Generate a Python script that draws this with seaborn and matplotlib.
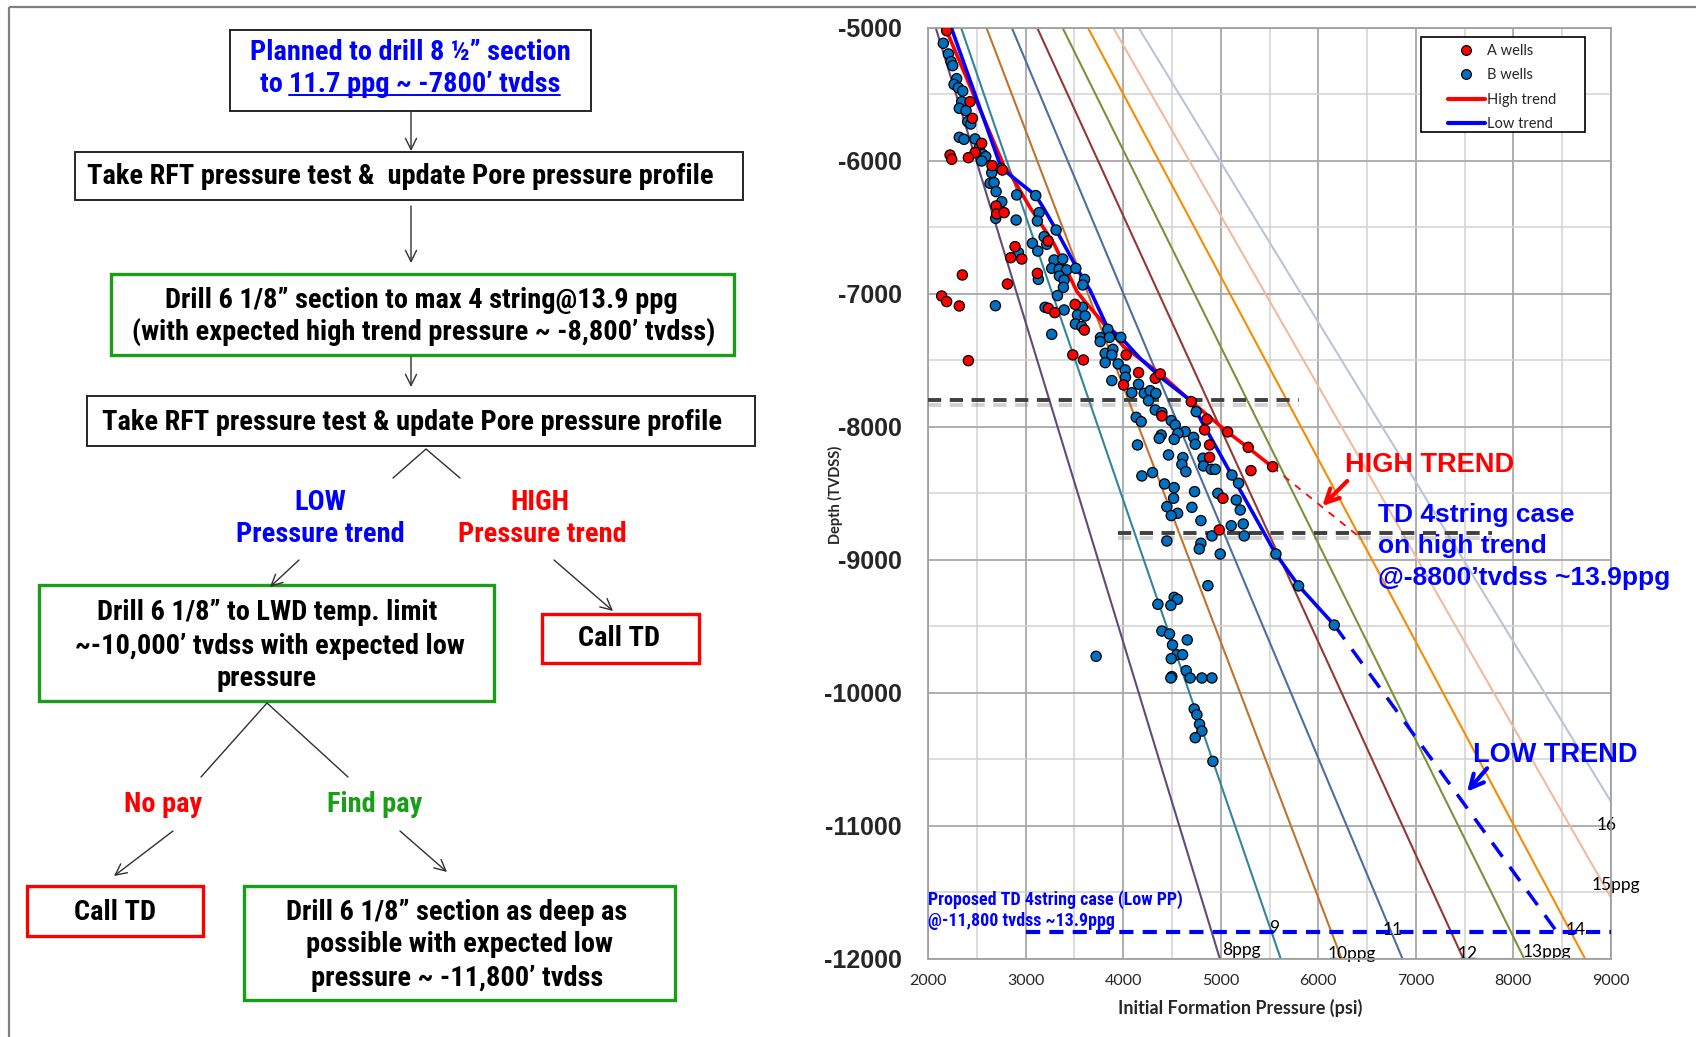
import numpy as np
import pandas as pd
import matplotlib
matplotlib.use("Agg")
import matplotlib.pyplot as plt
import matplotlib.patheffects as pe
from matplotlib import font_manager as fm
from matplotlib.lines import Line2D
from matplotlib.patches import Rectangle
import seaborn as sns

# ---------------------------------------------------------------- data
# A wells: initial formation pressure (psi) and depth (ft TVDSS)
a_psi = [2191, 2431, 2455, 2550, 2482, 2226, 2243, 2414, 2656, 2762, 2698, 2704,
         2780, 3231, 2892, 2848, 2961, 3121, 2352, 2814, 2140, 2191, 2321, 3234,
         3299, 3508, 3603, 3484, 3593, 2414, 4031, 4004, 4158, 4329, 4380, 4698,
         4397, 4859, 4835, 5071, 4886, 5282, 5532, 5310, 4886, 5023, 4985]
a_depth = [-5020, -5554, -5679, -5867, -5937, -5955, -5987, -5975, -6035, -6068,
           -6338, -6398, -6388, -6601, -6644, -6727, -6737, -6845, -6857, -6925,
           -7015, -7057, -7090, -7108, -7140, -7078, -7271, -7458, -7496, -7501,
           -7458, -7684, -7591, -7634, -7601, -7809, -7917, -7942, -8022, -8037,
           -8135, -8153, -8298, -8328, -8228, -8536, -8774]

# B wells
b_psi = [2157, 2209, 2236, 2253, 2294, 2267, 2311, 2356, 2345, 2321, 2390, 2407,
         2438, 2321, 2369, 2482, 2527, 2561, 2592, 2550, 2653, 2745, 2636, 2677,
         2698, 2909, 3104, 2756, 2694, 2903, 3139, 3121, 3313, 3190, 3217, 3070,
         3125, 2927, 3292, 3381, 3268, 3344, 3422, 3515, 3131, 3347, 3395, 3604,
         3586, 3388, 3327, 2691, 3200, 3395, 3583, 3532, 3611, 3511, 3576, 3268,
         3843, 3768, 3765, 3860, 3976, 3816, 3895, 3884, 3816, 3949, 4021, 3884,
         4024, 4158, 4089, 4216, 4277, 4335, 4260, 4749, 4329, 4397, 4134, 4185,
         4493, 4534, 4636, 4561, 4722, 4390, 4370, 4523, 4739, 4147, 4465, 4818,
         4612, 4602, 4643, 4824, 4903, 4944, 4192, 4301, 5115, 5183, 4424, 4523,
         4732, 4971, 5159, 4517, 4448, 4705, 5200, 4558, 4493, 4797, 5108, 5231,
         4910, 5241, 4448, 4797, 4780, 4995, 5566, 5798, 6164, 4869, 4523, 4557,
         4356, 4489, 4397, 4475, 4657, 4506, 3723, 4551, 4609, 4493, 4646, 4499,
         4489, 4687, 4807, 4910, 4728, 4756, 4783, 4807, 4739, 4920]
b_depth = [-5115, -5195, -5253, -5283, -5381, -5424, -5449, -5474, -5554, -5604,
           -5621, -5704, -5722, -5822, -5837, -5834, -5897, -5950, -5967, -6000,
           -6088, -6055, -6168, -6163, -6230, -6255, -6260, -6306, -6431, -6444,
           -6388, -6451, -6519, -6569, -6626, -6619, -6677, -6689, -6744, -6737,
           -6807, -6814, -6819, -6807, -6890, -6865, -6895, -6890, -6932, -6950,
           -7012, -7088, -7100, -7120, -7100, -7158, -7165, -7225, -7245, -7303,
           -7265, -7328, -7358, -7326, -7326, -7446, -7416, -7458, -7516, -7526,
           -7571, -7651, -7626, -7679, -7742, -7747, -7727, -7747, -7802, -7885,
           -7872, -7892, -7927, -7960, -7952, -7985, -8035, -8048, -8078, -8060,
           -8085, -8093, -8130, -8135, -8210, -8235, -8230, -8281, -8336, -8293,
           -8318, -8318, -8368, -8343, -8361, -8423, -8428, -8456, -8486, -8499,
           -8549, -8536, -8599, -8604, -8624, -8649, -8666, -8704, -8742, -8729,
           -8819, -8819, -8857, -8874, -8917, -8955, -8955, -9195, -9489, -9193,
           -9281, -9296, -9333, -9341, -9534, -9556, -9601, -9639, -9724, -9712,
           -9712, -9742, -9832, -9877, -9887, -9887, -9887, -9887, -10120, -10163,
           -10235, -10286, -10336, -10514]

# pressure trends
high_psi = [2190, 2780, 2850, 3050, 3290, 3525, 3595, 3815, 4005, 4380, 4700,
            5065, 5280, 5530]
high_depth = [-5020, -6040, -6105, -6355, -6620, -6980, -7045, -7235, -7395,
              -7600, -7810, -8035, -8155, -8300]
high_ext_psi = [5530, 6410]
high_ext_depth = [-8300, -8820]

low_psi = [2240, 2740, 2815, 3105, 3185, 3315, 3525, 3660, 3835, 3975, 4175,
           4400, 4690, 4750, 5565, 5800, 6165]
low_depth = [-5000, -6030, -6090, -6260, -6355, -6520, -6805, -6970, -7245,
             -7325, -7485, -7635, -7800, -7885, -8955, -9195, -9490]
low_ext_psi = [6165, 8450]
low_ext_depth = [-9490, -11800]

# mud-weight gradient lines (pressure at the top and bottom of the plot)
mw_ppg = [8, 9, 10, 11, 12, 13, 14, 15, 16]
mw_depth_top = -5000
mw_depth_bottom = -12000
mw_psi_top = [2080, 2340, 2600, 2860, 3120, 3380, 3640, 3900, 4160]
mw_psi_bottom = [4992, 5616, 6240, 6864, 7488, 8112, 8736, 9360, 9984]
mw_labels = ["8ppg", "9", "10ppg", "11", "12", "13ppg", "14", "15ppg", "16"]

# casing / TD reference depths
shoe_depths = [-7800, -8800]
shoe_psi_from = [2000, 3950]
shoe_psi_to = [5800, 7780]
td_low_depth = -11800
td_low_psi = [3000, 9000]

x_ticks = [2000, 3000, 4000, 5000, 6000, 7000, 8000, 9000]
y_ticks = [-12000, -11000, -10000, -9000, -8000, -7000, -6000, -5000]

# ---------------------------------------------------------------- style
sns.set_style("white")
ARIAL = ["Liberation Sans", "DejaVu Sans"]
HUMAN = ["Lato", "DejaVu Sans"]
plt.rcParams["font.family"] = HUMAN
plt.rcParams["axes.unicode_minus"] = False


def pick_narrow():
    """Prefer a condensed sans for the flowchart captions."""
    fonts = fm.fontManager.ttflist
    names = {f.name for f in fonts}
    for n in ["Liberation Sans Narrow", "Arial Narrow", "Roboto Condensed",
              "Noto Sans Condensed", "Open Sans Condensed",
              "DejaVu Sans Condensed", "Noto Sans SemiCondensed"]:
        if n in names:
            return [n, "DejaVu Sans"], "normal"
    for f in fonts:
        if str(f.stretch) in ("condensed", "semi-condensed") and \
                f.name in ("Noto Sans", "Roboto", "Open Sans", "DejaVu Sans"):
            return [f.name, "DejaVu Sans"], str(f.stretch)
    return ["Liberation Sans", "DejaVu Sans"], "normal"


NARROW, NSTRETCH = pick_narrow()

RED = "#FF0000"
BLUE_PT = "#0070C0"
BLUE = "#0000FF"
GREEN = "#1A9E1A"
mw_colors = ["#604A7B", "#31859C", "#C0722E", "#4A6FA0", "#953735",
             "#77933C", "#F98A00", "#F4B8A0", "#B8C4DA"]

W, H = 1696, 1037
fig = plt.figure(figsize=(W / 100, H / 100), dpi=100)
renderer = fig.canvas.get_renderer()


def fit_size(text, target_px, base=20.0):
    """Font size at which a bold narrow caption spans target_px pixels."""
    t = fig.text(0, 0, text, fontsize=base, fontweight="bold", family=NARROW,
                 fontstretch=NSTRETCH)
    w = t.get_window_extent(renderer).width
    t.remove()
    return base * target_px / w


FC_SIZE = fit_size("Take RFT pressure test & update Pore pressure profile", 615)
NOTE_SIZE = fit_size("Proposed TD 4string case (Low PP)", 255, base=13.0)

# ---------------------------------------------------------------- flowchart
fax = fig.add_axes([0, 0, 1, 1], zorder=-1)
fax.set_xlim(0, W)
fax.set_ylim(H, 0)
fax.axis("off")

# outer frame
fax.plot([9, W], [6.5, 6.5], color="#808080", lw=1.6, solid_capstyle="butt")
fax.plot([9, 9], [6.5, H], color="#808080", lw=1.6, solid_capstyle="butt")


def box(x0, y0, x1, y1, color, lw):
    fax.add_patch(Rectangle((x0, y0), x1 - x0, y1 - y0, fill=False,
                            ec=color, lw=lw, joinstyle="miter"))


def label(x, y, s, color="black", ha="center"):
    return fax.text(x, y, s, ha=ha, va="center", fontsize=FC_SIZE,
                    fontweight="bold", family=NARROW, fontstretch=NSTRETCH,
                    color=color)


def arrow(tail, tip):
    fax.annotate("", xy=tip, xytext=tail,
                 arrowprops=dict(arrowstyle="->", color="#303030", lw=1.0,
                                 mutation_scale=20, shrinkA=0, shrinkB=0))


box(230, 30, 591, 111, "#262626", 1.4)
label(410, 53, "Planned to drill 8 \u00bd\u201d section", color=BLUE)
t_to = label(0, 85, "to ", color=BLUE, ha="left")
t_ul = label(0, 85, "11.7 ppg ~ -7800\u2019 tvdss", color=BLUE, ha="left")
arrow((411, 111), (411, 151))

box(75, 152, 743, 200, "#262626", 1.4)
label(400, 176, "Take RFT pressure test &  update Pore pressure profile")
arrow((411, 206), (411, 263))

box(111, 274, 734, 355, GREEN, 2.4)
label(421, 300, "Drill 6 1/8\u201d section to max 4 string@13.9 ppg")
label(424, 332, "(with expected high trend pressure ~ -8,800\u2019 tvdss)")
arrow((411, 357), (411, 387))

box(87, 396, 755, 446, "#262626", 1.4)
label(412, 422, "Take RFT pressure test & update Pore pressure profile")
fax.plot([393, 426, 460], [478, 449, 478], color="#303030", lw=1.0)

label(320, 503, "LOW", color=BLUE)
label(320, 535, "Pressure trend", color=BLUE)
label(540, 503, "HIGH", color=RED)
label(542, 535, "Pressure trend", color=RED)
arrow((299, 560), (270, 587))
arrow((554, 560), (613, 611))

box(39, 585, 494, 701, GREEN, 2.4)
label(267, 612, "Drill 6 1/8\u201d to LWD temp. limit")
label(270, 646, "~-10,000\u2019 tvdss with expected low")
label(267, 678, "pressure")

box(542, 614, 699, 663, RED, 2.4)
label(619, 639, "Call TD")

fax.plot([201, 267, 348], [777, 703, 777], color="#303030", lw=1.0)
label(163, 804, "No pay", color=RED)
label(375, 804, "Find pay", color=GREEN)
arrow((173, 831), (114, 876))
arrow((400, 831), (447, 872))

box(27, 886, 203, 936, RED, 2.4)
label(115, 912, "Call TD")

box(244, 886, 675, 1000, GREEN, 2.4)
label(457, 913, "Drill 6 1/8\u201d section as deep as")
label(459, 945, "possible with expected low")
label(457, 978, "pressure ~ -11,800\u2019 tvdss")

# ---------------------------------------------------------------- chart
ax = fig.add_axes([928 / W, 1 - 959 / H, 683 / W, 931 / H], zorder=1)

mw_df = pd.DataFrame({
    "psi": np.ravel(np.column_stack([mw_psi_top, mw_psi_bottom])),
    "depth": np.tile([mw_depth_top, mw_depth_bottom], len(mw_ppg)),
    "ppg": np.repeat(mw_ppg, 2),
})
sns.lineplot(data=mw_df, x="psi", y="depth", hue="ppg",
             palette=dict(zip(mw_ppg, mw_colors)), units="ppg",
             estimator=None, sort=False, lw=1.5, legend=False, ax=ax, zorder=2)

trend_df = pd.DataFrame({
    "psi": high_psi + low_psi,
    "depth": high_depth + low_depth,
    "trend": ["High trend"] * len(high_psi) + ["Low trend"] * len(low_psi),
})
sns.lineplot(data=trend_df, x="psi", y="depth", hue="trend",
             palette={"High trend": RED, "Low trend": BLUE}, units="trend",
             estimator=None, sort=False, lw=2.6, legend=False, ax=ax, zorder=3)
sns.lineplot(x=high_ext_psi, y=high_ext_depth, color=RED, lw=1.3,
             ax=ax, zorder=3, sort=False, estimator=None,
             linestyle=(0, (4, 4)))
sns.lineplot(x=low_ext_psi, y=low_ext_depth, color=BLUE, lw=2.5,
             ax=ax, zorder=3, sort=False, estimator=None,
             linestyle=(0, (5, 3.6)))

# casing shoe depths
shadow = [pe.SimpleLineShadow(offset=(0, -3), shadow_color="#808080", alpha=0.35),
          pe.Normal()]
for d, p0, p1 in zip(shoe_depths, shoe_psi_from, shoe_psi_to):
    ax.plot([p0, p1], [d, d], color="#404040", lw=2.8, zorder=3,
            linestyle=(0, (3.4, 2.2)), path_effects=shadow)
ax.plot(td_low_psi, [td_low_depth] * 2, color=BLUE, lw=3.0, zorder=3,
        linestyle=(0, (3.4, 2.2)))

wells = pd.DataFrame({
    "psi": b_psi + a_psi,
    "depth": b_depth + a_depth,
    "group": ["B wells"] * len(b_psi) + ["A wells"] * len(a_psi),
})
sns.scatterplot(data=wells, x="psi", y="depth", hue="group",
                palette={"A wells": RED, "B wells": BLUE_PT}, s=54,
                edgecolor="black", linewidth=0.9, legend=False, ax=ax,
                zorder=5)

ax.set_xlim(2000, 9000)
ax.set_ylim(-12000, -5000)
ax.set_xticks(x_ticks)
ax.set_xticklabels([str(v) for v in x_ticks], fontsize=11.5, family=HUMAN)
ax.set_yticks(y_ticks)
ax.set_yticklabels([str(v) for v in y_ticks], fontsize=18, fontweight="bold",
                   family=ARIAL)
ax.set_xticks(np.arange(2500, 9000, 1000), minor=True)
ax.set_yticks(np.arange(-11500, -5000, 1000), minor=True)
ax.grid(which="major", color="#a8a8a8", lw=1.3, zorder=0)
ax.grid(which="minor", color="#d2d2d2", lw=1.1, zorder=0)
ax.set_axisbelow(True)
ax.tick_params(axis="both", which="both", length=0)
ax.tick_params(axis="y", pad=19)
ax.tick_params(axis="x", pad=11)
for sp in ax.spines.values():
    sp.set_color("#a0a0a0")
    sp.set_linewidth(1.3)

ax.set_xlabel("Initial Formation Pressure (psi)", fontsize=13,
              fontweight="bold", family=HUMAN)
ax.xaxis.set_label_coords(0.457, -0.053)
ax.xaxis.label.set_va("center")
ax.set_ylabel("Depth (TVDSS)", fontsize=10.5, fontweight="bold", family=HUMAN)
ax.yaxis.set_label_coords(-0.135, 0.498)
ax.yaxis.label.set_va("center")

# mud-weight line labels
mw_label_pos = [(5013, -11932, "left"), (5546, -11767, "center"),
                (6100, -11962, "left"), (6766, -11782, "center"),
                (7535, -11962, "center"), (8098, -11947, "left"),
                (8641, -11782, "center"), (8805, -11444, "left"),
                (8959, -10993, "center")]
for (px, dy, ha), txt in zip(mw_label_pos, mw_labels):
    ax.text(px, dy, txt, ha=ha, va="center", fontsize=12.5, family=HUMAN,
            color="black", zorder=2)

# annotations
ax.text(2000, -11550, "Proposed TD 4string case (Low PP)", ha="left",
        va="center", fontsize=NOTE_SIZE, fontweight="bold", family=NARROW,
        fontstretch=NSTRETCH, color=BLUE, zorder=6)
ax.text(2000, -11712, "@-11,800 tvdss ~13.9ppg", ha="left", va="center",
        fontsize=NOTE_SIZE, fontweight="bold", family=NARROW,
        fontstretch=NSTRETCH, color=BLUE, zorder=6)

ax.text(6274, -8286, "HIGH TREND", ha="left", va="center", fontsize=19.5,
        fontweight="bold", family=ARIAL, color=RED, zorder=6)
ax.annotate("", xy=(6041, -8594), xytext=(6297, -8406),
            arrowprops=dict(arrowstyle="->", color=RED, lw=3,
                            mutation_scale=24, shrinkA=0, shrinkB=0), zorder=6)
for dy, s in zip([-8662, -8895, -9135],
                 ["TD 4string case", "on high trend", "@-8800\u2019tvdss ~13.9ppg"]):
    ax.text(6612, dy, s, ha="left", va="center", fontsize=19,
            fontweight="bold", family=ARIAL, color=BLUE, zorder=6)

ax.text(7587, -10466, "LOW TREND", ha="left", va="center", fontsize=19.5,
        fontweight="bold", family=ARIAL, color=BLUE, zorder=6)
ax.annotate("", xy=(7525, -10742), xytext=(7730, -10566),
            arrowprops=dict(arrowstyle="->", color=BLUE, lw=3,
                            mutation_scale=24, shrinkA=0, shrinkB=0), zorder=6)

# legend
ax.add_patch(Rectangle((0.7218, 0.8883), 0.9619 - 0.7218, 0.9903 - 0.8883,
                       transform=ax.transAxes, fill=True, fc="white",
                       ec="black", lw=1.2, zorder=7))
handles = [
    Line2D([], [], ls="", marker="o", mfc=RED, mec="black", ms=7, mew=0.9),
    Line2D([], [], ls="", marker="o", mfc=BLUE_PT, mec="black", ms=7, mew=0.9),
    Line2D([], [], color=RED, lw=3),
    Line2D([], [], color=BLUE, lw=3),
]
leg = ax.legend(handles, ["A wells", "B wells", "High trend", "Low trend"],
                loc="center", bbox_to_anchor=(0.8404, 0.9362), frameon=False,
                prop={"family": HUMAN, "size": 10.5}, handlelength=2.5,
                handletextpad=0.15, labelspacing=0.72, borderpad=0.2)
leg.set_zorder(8)

# ---------------------------------------------------------------- underline
fig.canvas.draw()
inv = fax.transData.inverted()
w_to = t_to.get_window_extent(renderer).width
w_ul = t_ul.get_window_extent(renderer).width
start = 410 - (w_to + w_ul) / 2
t_to.set_x(start)
t_ul.set_x(start + w_to)
fig.canvas.draw()
bb = t_ul.get_window_extent(renderer)
(ux0, uy0), (ux1, _) = inv.transform([[bb.x0, bb.y0], [bb.x1, bb.y0]])
fax.plot([ux0, ux1], [uy0 - 4, uy0 - 4], color=BLUE, lw=1.4)

fig.savefig("out.png", dpi=100)
